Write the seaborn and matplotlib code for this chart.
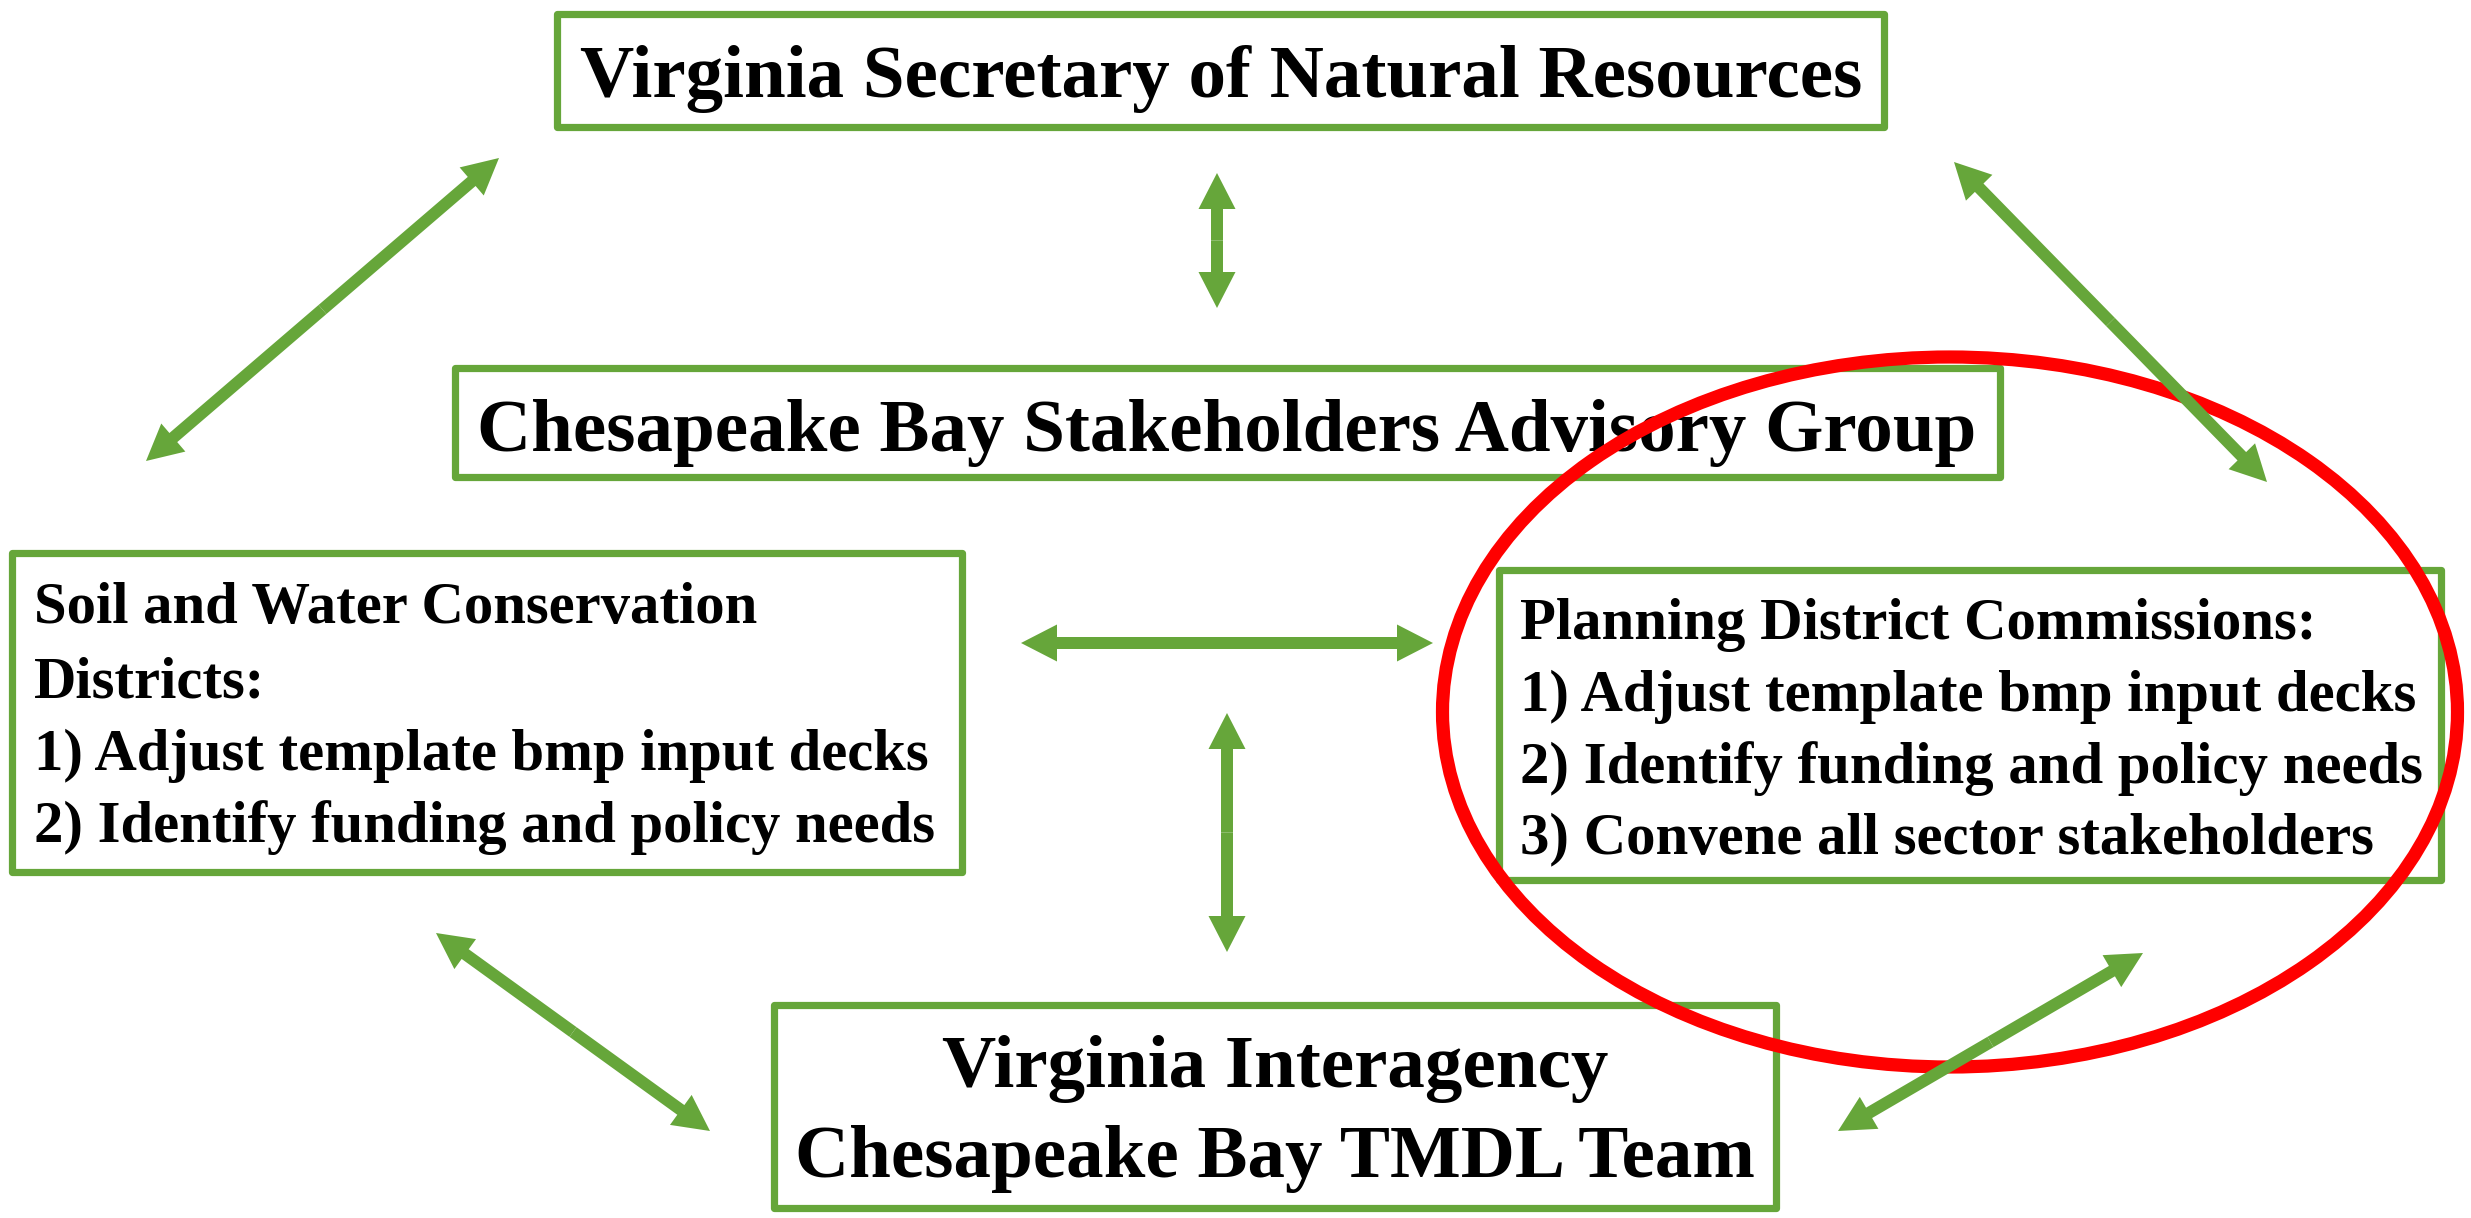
import matplotlib
matplotlib.use("Agg")
import matplotlib.pyplot as plt
from matplotlib.patches import Rectangle, Ellipse
import seaborn as sns

# text of each box
secretary_lines = ["Virginia Secretary of Natural Resources"]
advisory_lines = ["Chesapeake Bay Stakeholders Advisory Group"]
swcd_lines = ["Soil and Water Conservation",
              "Districts:",
              "1) Adjust template bmp input decks",
              "2) Identify funding and policy needs"]
pdc_lines = ["Planning District Commissions:",
             "1) Adjust template bmp input decks",
             "2) Identify funding and policy needs",
             "3) Convene all sector stakeholders"]
team_lines = ["Virginia Interagency", "Chesapeake Bay TMDL Team"]

sns.set_theme(style="white")
plt.rcParams['font.family'] = ['Liberation Serif', 'DejaVu Serif']

GREEN = "#66a63a"
RED = "#ff0000"

W, H = 2471, 1218
fig = plt.figure(figsize=(W / 100, H / 100), dpi=100)
ax = fig.add_axes([0, 0, 1, 1])
ax.set_xlim(0, W)
ax.set_ylim(H, 0)
ax.axis("off")

# layout (pixel units): box rect, text anchor, baselines, font size, alignment
boxes = [
    dict(lines=secretary_lines, rect=(557, 14, 1884, 127), x=1221, base=[97], size=54, ha="center"),
    dict(lines=advisory_lines, rect=(455, 368, 2000, 477), x=1227, base=[451], size=54, ha="center"),
    dict(lines=swcd_lines, rect=(12, 553, 962, 872), x=34, base=[623, 697, 770, 842], size=42.2, ha="left"),
    dict(lines=pdc_lines, rect=(1499, 570, 2441, 880), x=1520, base=[639, 711, 783, 853], size=42.3, ha="left"),
    dict(lines=team_lines, rect=(774, 1005, 1776, 1208), x=1275, base=[1087, 1177], size=54, ha="center"),
]

for b in boxes:
    x0, y0, x1, y1 = b["rect"]
    r = Rectangle((x0, y0), x1 - x0, y1 - y0, facecolor="white",
                  edgecolor=GREEN, lw=5.2, zorder=2)
    r.set_joinstyle("round")
    ax.add_patch(r)
    for txt, yb in zip(b["lines"], b["base"]):
        ax.text(b["x"], yb, txt, ha=b["ha"], va="baseline", fontsize=b["size"],
                fontweight="bold", color="black", zorder=2.5)

# double-headed arrows (tip to tip)
arrows = [
    ((146, 461), (499, 158)),
    ((1217, 173), (1217, 308)),
    ((1954, 162), (2267, 482)),
    ((1021, 643), (1433, 643)),
    ((1227, 713), (1227, 952)),
    ((436, 933), (710, 1131)),
    ((1838, 1131), (2143, 953)),
]
for (xa, ya), (xb, yb) in arrows:
    xm, ym = (xa + xb) / 2, (ya + yb) / 2
    for xe, ye in [(xa, ya), (xb, yb)]:
        ax.arrow(xm, ym, xe - xm, ye - ym, width=12, head_width=37, head_length=36,
                 length_includes_head=True, color=GREEN, lw=0, zorder=4)

# red highlight ring
ax.add_patch(Ellipse((1950, 712), 1015, 710, fill=False, edgecolor=RED, lw=9.5, zorder=3))

fig.savefig("out.png", dpi=100, facecolor="white")
